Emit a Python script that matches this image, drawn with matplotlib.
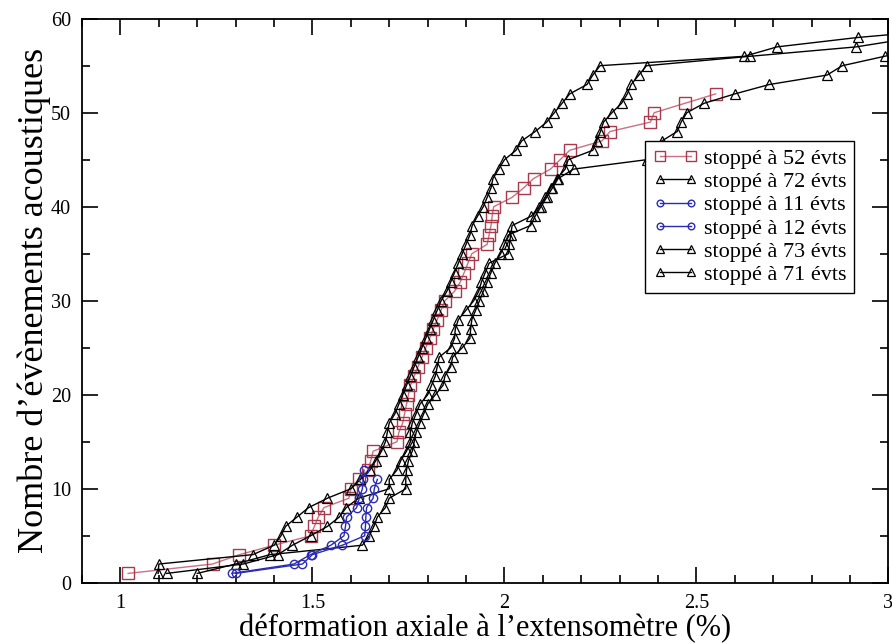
import numpy as np
import matplotlib
matplotlib.use("Agg")
import matplotlib.pyplot as plt
from matplotlib.ticker import MultipleLocator

plt.rcParams['font.family'] = ['Liberation Serif', 'DejaVu Serif']

# strain (%) at which each acoustic event occurred, counts 1..N
red52_x = [1.02, 1.24, 1.31, 1.40, 1.495, 1.505, 1.515, 1.53, 1.595, 1.60,
           1.62, 1.645, 1.652, 1.658, 1.72, 1.725, 1.735, 1.74, 1.745, 1.75,
           1.755, 1.765, 1.775, 1.785, 1.795, 1.805, 1.815, 1.825, 1.835, 1.845,
           1.87, 1.885, 1.895, 1.905, 1.915, 1.955, 1.96, 1.965, 1.968, 1.972,
           2.02, 2.05, 2.076, 2.12, 2.145, 2.17, 2.254, 2.275, 2.38, 2.39,
           2.47, 2.55]

t72_x = [1.12, 1.32, 1.41, 1.448, 1.495, 1.539, 1.57, 1.588, 1.62, 1.70,
         1.70, 1.72, 1.73, 1.745, 1.755, 1.755, 1.76, 1.77, 1.78, 1.80,
         1.81, 1.82, 1.825, 1.83, 1.86, 1.87, 1.872, 1.88, 1.90, 1.92,
         1.933, 1.94, 1.95, 1.96, 2.01, 2.013, 2.016, 2.02, 2.07, 2.09,
         2.106, 2.12, 2.137, 2.158, 2.166, 2.23, 2.24, 2.25, 2.258, 2.28,
         2.305, 2.32, 2.33, 2.35, 2.37, 2.64, 2.916, 3.07]

b11_x = [1.30, 1.474, 1.50, 1.578, 1.636, 1.638, 1.639, 1.641, 1.658, 1.661,
         1.669]

b12_x = [1.29, 1.452, 1.495, 1.548, 1.582, 1.586, 1.589, 1.615, 1.622, 1.63,
         1.632, 1.634]

t73_x = [1.098, 1.10, 1.345, 1.40, 1.418, 1.43, 1.46, 1.49, 1.539, 1.60,
         1.625, 1.65, 1.665, 1.68, 1.69, 1.695, 1.70, 1.715, 1.725, 1.735,
         1.745, 1.755, 1.765, 1.775, 1.785, 1.795, 1.805, 1.815, 1.825, 1.835,
         1.85, 1.86, 1.87, 1.88, 1.89, 1.90, 1.91, 1.916, 1.93, 1.945,
         1.955, 1.965, 1.97, 1.985, 2.0, 2.03, 2.045, 2.08, 2.11, 2.13,
         2.15, 2.17, 2.215, 2.23, 2.249, 2.625, 2.71, 2.92, 3.2]

t71_x = [1.20, 1.30, 1.39, 1.63, 1.648, 1.66, 1.669, 1.69, 1.70, 1.743,
         1.743, 1.745, 1.75, 1.76, 1.765, 1.77, 1.78, 1.79, 1.80, 1.82,
         1.84, 1.845, 1.86, 1.865, 1.89, 1.91, 1.912, 1.915, 1.925, 1.935,
         1.945, 1.955, 1.965, 1.975, 1.99, 2.0, 2.01, 2.068, 2.08, 2.095,
         2.11, 2.125, 2.14, 2.18, 2.37, 2.385, 2.41, 2.45, 2.46, 2.475,
         2.52, 2.60, 2.69, 2.84, 2.88, 2.99, 3.1]

labels = ["stoppé à 52 évts", "stoppé à 72 évts", "stoppé à 11 évts",
          "stoppé à 12 évts", "stoppé à 73 évts", "stoppé à 71 évts"]


def counts(xs):
    return np.arange(1, len(xs) + 1)


fig = plt.figure(figsize=(8.92, 6.44), dpi=100)
ax = fig.add_axes([0.092, 0.095, 0.904, 0.876])

red_line = '#cc7082'
red_mark = '#a83a4c'
blue = '#2a2ab4'

ax.plot(red52_x, counts(red52_x), color=red_line, lw=1.0, marker='s', ms=8.5,
        mfc='none', mec=red_mark, mew=1.0, label=labels[0], zorder=3)
ax.plot(t72_x, counts(t72_x), color='black', lw=1.0, marker='^', ms=7,
        mfc='none', mec='black', mew=0.9, label=labels[1], zorder=4)
ax.plot(b11_x, counts(b11_x), color=blue, lw=1.0, marker='o', ms=6,
        mfc='none', mec=blue, mew=1.0, label=labels[2], zorder=5)
ax.plot(b12_x, counts(b12_x), color=blue, lw=1.0, marker='o', ms=6,
        mfc='none', mec=blue, mew=1.0, label=labels[3], zorder=5)
ax.plot(t73_x, counts(t73_x), color='black', lw=1.0, marker='^', ms=7,
        mfc='none', mec='black', mew=0.9, label=labels[4], zorder=4)
ax.plot(t71_x, counts(t71_x), color='black', lw=1.0, marker='^', ms=7,
        mfc='none', mec='black', mew=0.9, label=labels[5], zorder=4)

ax.set_xlim(0.9, 3.0)
ax.set_ylim(0, 60)
ax.xaxis.set_major_locator(MultipleLocator(0.5))
ax.xaxis.set_minor_locator(MultipleLocator(0.1))
ax.yaxis.set_major_locator(MultipleLocator(10))
ax.yaxis.set_minor_locator(MultipleLocator(5))
ax.set_xticks([1, 1.5, 2, 2.5, 3])
ax.set_xticklabels(['1', '1.5', '2', '2.5', '3'])

ax.tick_params(which='both', direction='in', top=True, right=True, width=1.2,
               labelsize=14.5)
ax.tick_params(which='major', length=11.5, pad=8)
ax.tick_params(which='minor', length=5.5)
for s in ax.spines.values():
    s.set_linewidth(1.3)

ax.set_xlabel("déformation axiale à l’extensomètre (%)", fontsize=22,
              labelpad=1)
ax.set_ylabel("Nombre d’évènements acoustiques", fontsize=26, labelpad=0)

leg = ax.legend(loc='upper left', bbox_to_anchor=(0.6985, 0.7837),
                borderaxespad=0, fontsize=16, numpoints=2, handlelength=2.0,
                labelspacing=0.12, handletextpad=0.3, borderpad=0.35,
                fancybox=False, framealpha=1, edgecolor='black',
                markerscale=0.8)
leg.get_frame().set_linewidth(1.0)

fig.savefig('out.png', dpi=100)
